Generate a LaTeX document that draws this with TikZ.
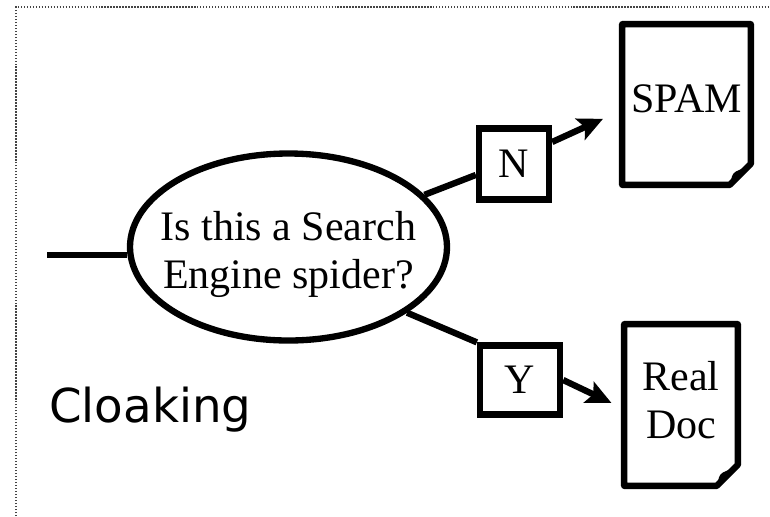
\documentclass[tikz,border=0pt]{standalone}
\usepackage{fontspec}
\setmainfont{Liberation Serif}
\newfontfamily\cloakfont{DejaVu Sans}
\usetikzlibrary{shapes.geometric, arrows.meta}
\definecolor{framegray}{HTML}{444444}

\begin{document}
\begin{tikzpicture}[
  decision/.style={ellipse, draw, line width=3.6pt, inner sep=0pt, minimum width=6.34cm,
    minimum height=3.74cm},
  question/.style={inner sep=0pt, align=center, font=\fontsize{23.9}{27.3}\selectfont},
  answer/.style={rectangle, draw, line width=3.6pt, inner sep=0pt,
    font=\fontsize{23.9}{27.3}\selectfont},
  doc/.style={rectangle, inner sep=0pt, align=center, text depth=0.22cm,
    font=\fontsize{23.9}{27.3}\selectfont},
  docedge/.style={line width=3.6pt, line join=round},
  link/.style={line width=3.6pt},
  arrow/.style={line width=3.6pt, -{Stealth[length=0.5cm, width=0.46cm, inset=0.1cm]}}
]
  \useasboundingbox (0,0) rectangle (15.4,-10.32);
  \draw[framegray, line width=1.1pt, dash pattern=on 0.8pt off 0.9pt]
    (0.32,-10.32) -- (0.32,-0.14) -- (15.4,-0.14);

  \node[decision] (decide) at (5.77, -4.94) {};
  \node[question] (ask) at (5.77, -5.08) {Is this a Search\\Engine spider?};
  \coordinate (in) at (0.94, -5.1);

  \node[answer, minimum width=1.40cm, minimum height=1.42cm] (nbox) at (10.28, -3.28) {N};
  \node[answer, minimum width=1.60cm, minimum height=1.38cm] (ybox) at (10.40, -7.60) {Y};

  \node[doc, minimum width=2.56cm, minimum height=3.20cm] (spam) at (13.73, -2.09) {SPAM};
  \node[doc, minimum width=2.26cm, minimum height=3.22cm] (real) at (13.62, -8.10) {Real\\Doc};

  \node[anchor=base west, font=\cloakfont\fontsize{26.6}{30}\selectfont] (title) at (0.86, -8.44) {Cloaking};

  % dog-eared pages
  \foreach \d in {spam, real} {
    \draw[docedge] (\d.north west) -- (\d.north east) -- ([yshift=0.42cm]\d.south east)
      -- ([xshift=-0.42cm]\d.south east) -- (\d.south west) -- cycle;
    \fill[rounded corners=2pt] ([yshift=0.42cm]\d.south east) -- ([shift={(-0.18cm,0.32cm)}]\d.south east)
      -- ([shift={(-0.36cm,0.24cm)}]\d.south east) -- ([xshift=-0.42cm]\d.south east) -- cycle;
  }

  \draw[link] (in) -- (in -| decide.west);
  \draw[link] (decide.21) -- (nbox.196);
  \draw[link] (decide.-29) -- (ybox.north west);
  \draw[arrow, shorten >=0.42cm] (nbox.30) -- (spam.185);
  \draw[arrow, shorten >=0.28cm] (ybox.east) -- (real.184);
\end{tikzpicture}
\end{document}
